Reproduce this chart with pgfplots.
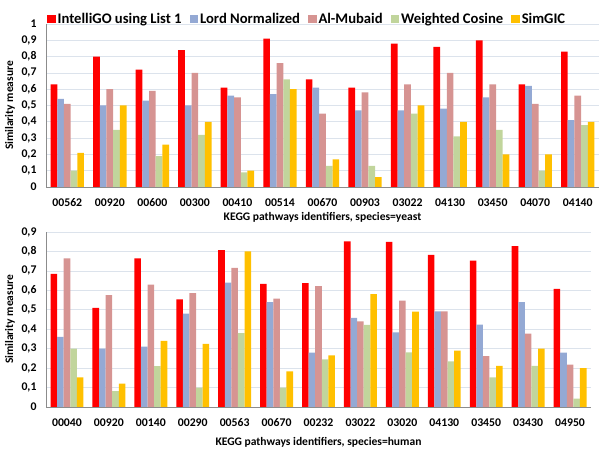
\documentclass[border=0pt]{standalone}
\usepackage{pgfplots}
\usepackage{pgfplotstable}
\pgfplotsset{compat=1.18}
\usepackage{fontspec}
\setmainfont{Carlito}
\definecolor{cred}{HTML}{FF0000}
\definecolor{cblue}{HTML}{94A9D4}
\definecolor{cpink}{HTML}{D69492}
\definecolor{cgreen}{HTML}{C1D59C}
\definecolor{cyellow}{HTML}{FFC000}
\definecolor{gridc}{HTML}{DCE3EC}
\definecolor{axc}{HTML}{8C8C8C}

\pgfplotstableread{
x red blue pink green yellow
0  0.63 0.54 0.51 0.10 0.21
1  0.80 0.50 0.60 0.35 0.50
2  0.72 0.53 0.59 0.19 0.26
3  0.84 0.50 0.70 0.32 0.40
4  0.61 0.56 0.55 0.09 0.10
5  0.91 0.57 0.76 0.66 0.60
6  0.66 0.61 0.45 0.13 0.17
7  0.61 0.47 0.58 0.13 0.06
8  0.88 0.47 0.63 0.45 0.50
9  0.86 0.48 0.70 0.31 0.40
10 0.90 0.55 0.63 0.35 0.20
11 0.63 0.62 0.51 0.10 0.20
12 0.83 0.41 0.56 0.38 0.40
}\yeast

\pgfplotstableread{
x red blue pink green yellow
0  0.685 0.36  0.765 0.30  0.152
1  0.51  0.30  0.576 0.082 0.12
2  0.765 0.31  0.63  0.21  0.34
3  0.553 0.48  0.586 0.10  0.324
4  0.807 0.64  0.716 0.38  0.80
5  0.633 0.54  0.557 0.10  0.183
6  0.637 0.28  0.622 0.245 0.265
7  0.852 0.458 0.44  0.422 0.58
8  0.849 0.384 0.547 0.281 0.49
9  0.782 0.492 0.492 0.235 0.29
10 0.753 0.424 0.262 0.152 0.211
11 0.827 0.54  0.377 0.211 0.30
12 0.607 0.28  0.218 0.043 0.20
}\human

\pgfplotsset{
  mybars/.style={
    scale only axis,
    ybar=0pt,
    bar width=0.157,
    xmin=-0.5, xmax=12.5,
    ymin=0,
    axis x line*=bottom,
    axis y line*=left,
    axis line style={axc, line width=0.6pt},
    xtick=data,
    major tick length=0pt,
    ymajorgrids,
    grid style={gridc, line width=0.6pt},
    tick label style={font=\bfseries\fontsize{11.8}{13}\selectfont},
    xticklabel style={yshift=-8bp},
    yticklabel style={xshift=-6bp, /pgf/number format/.cd, fixed, use comma, precision=1, assume math mode=true},
    xlabel style={font=\bfseries\fontsize{11.6}{13}\selectfont},
    ylabel style={font=\fontsize{11.5}{13}\selectfont\bfseries},
    every axis plot/.append style={draw=none},
  }
}

\begin{document}
\begin{tikzpicture}[x=1bp,y=1bp]
\path[use as bounding box] (0,0) rectangle (600,450);
% top: yeast
\begin{axis}[mybars,
  at={(46bp,263bp)}, anchor=south west,
  width=553bp, height=163bp,
  ymax=1, ytick={0,0.1,...,1.01},
  xticklabels={00562,00920,00600,00300,00410,00514,00670,00903,03022,04130,03450,04070,04140},
  xlabel={KEGG pathways identifiers, species=yeast},
  xlabel style={at={(axis description cs:0.5,0)}, anchor=center, yshift=-30bp},
  ylabel={Similarity measure},
  ylabel style={at={(axis description cs:-0.065,0.5)}, anchor=center},
  legend columns=5,
  legend style={at={(axis description cs:0,1)}, anchor=west, yshift=4.5bp, xshift=1bp,
    draw=none, fill=none, inner sep=0pt,
    font=\bfseries\fontsize{14.7}{16}\selectfont,
    nodes={inner sep=2bp},
    /tikz/every even column/.append style={column sep=6bp}},
  legend image code/.code={\fill[#1] (0bp,-4bp) rectangle (8.5bp,4bp);},
]
\addplot[fill=cred] table[x=x,y=red] {\yeast};
\addplot[fill=cblue] table[x=x,y=blue] {\yeast};
\addplot[fill=cpink] table[x=x,y=pink] {\yeast};
\addplot[fill=cgreen] table[x=x,y=green] {\yeast};
\addplot[fill=cyellow] table[x=x,y=yellow] {\yeast};
\legend{IntelliGO using List 1, Lord Normalized, Al-Mubaid, Weighted Cosine, SimGIC}
\end{axis}
% bottom: human
\begin{axis}[mybars,
  at={(46bp,43bp)}, anchor=south west,
  width=545bp, height=175bp,
  ymax=0.9, ytick={0,0.1,...,0.91},
  xticklabels={00040,00920,00140,00290,00563,00670,00232,03022,03020,04130,03450,03430,04950},
  xlabel={KEGG pathways identifiers, species=human},
  xlabel style={at={(axis description cs:0.5,0)}, anchor=center, yshift=-35bp},
  ylabel={Similarity measure},
  ylabel style={at={(axis description cs:-0.066,0.5)}, anchor=center},
]
\addplot[fill=cred] table[x=x,y=red] {\human};
\addplot[fill=cblue] table[x=x,y=blue] {\human};
\addplot[fill=cpink] table[x=x,y=pink] {\human};
\addplot[fill=cgreen] table[x=x,y=green] {\human};
\addplot[fill=cyellow] table[x=x,y=yellow] {\human};
\end{axis}
\end{tikzpicture}
\end{document}
